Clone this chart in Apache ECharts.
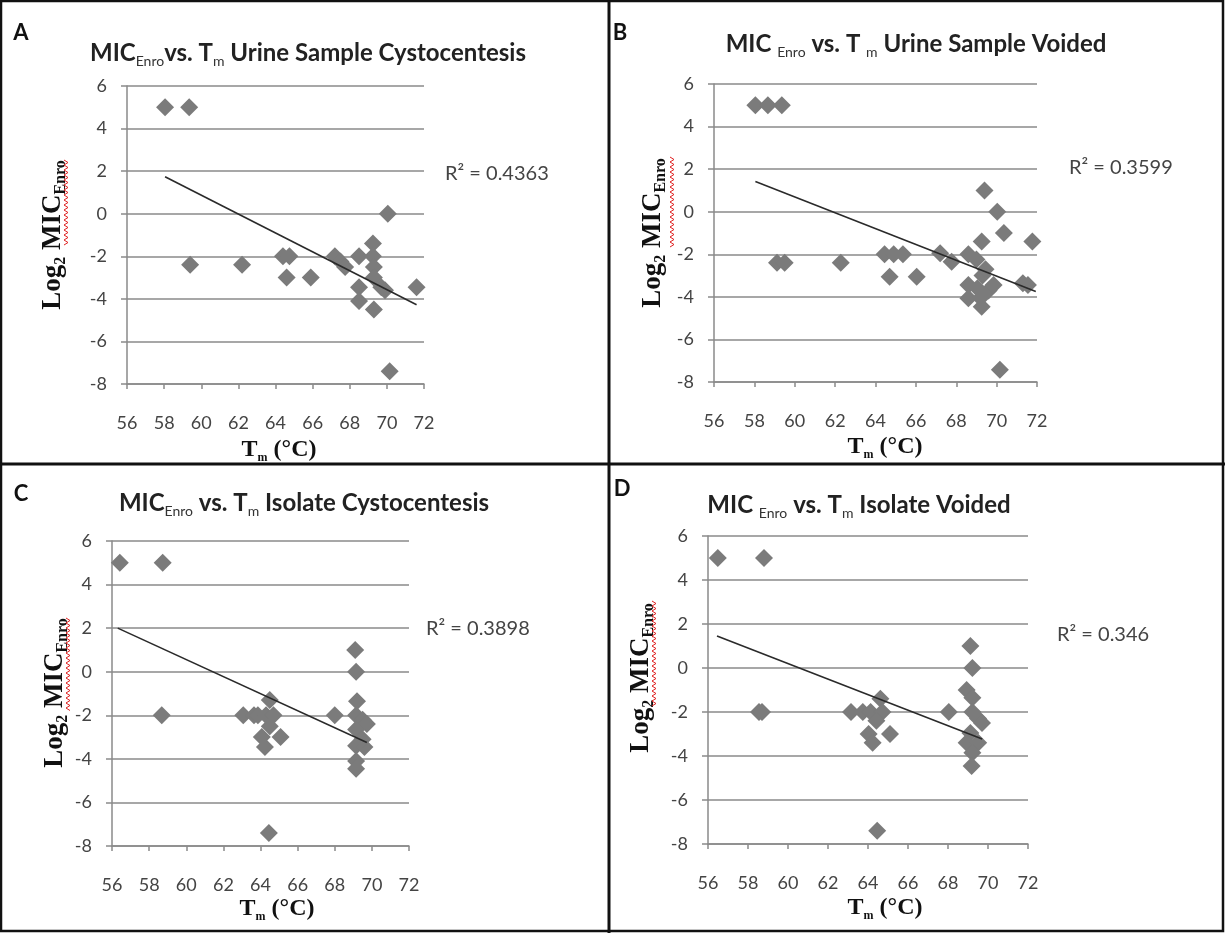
<!DOCTYPE html>
<html><head><meta charset="utf-8">
<script src="https://cdn.jsdelivr.net/npm/echarts@6/dist/echarts.min.js"></script>
<style>html,body{margin:0;padding:0;background:#fff}#c{width:1225px;height:933px}</style>
</head><body><div id="c"></div>
<script>
// axis ranges / tick step
const xRange = [56, 72, 2];
const yRange = [-8, 6, 2];

// Panel A: Urine Sample Cystocentesis
const tmA  = [58.05, 59.35, 59.4, 62.2, 64.4, 64.75, 64.6, 65.9, 67.2, 67.5, 67.75, 68.5, 69.25, 69.25, 69.3, 69.3, 68.5, 68.5, 69.3, 69.7, 69.9, 70.05, 70.15, 71.6];
const micA = [5, 5, -2.4, -2.4, -2, -2, -3, -3, -2, -2.25, -2.5, -2, -1.4, -2, -2.5, -3, -3.45, -4.1, -4.5, -3.45, -3.6, 0, -7.4, -3.45];
const trendA = [[58.05, 1.74], [71.6, -4.28]];

// Panel B: Urine Sample Voided
const tmB  = [58.05, 58.67, 59.36, 59.12, 59.5, 62.28, 64.45, 64.9, 65.36, 64.7, 66.04, 67.2, 67.77, 68.6, 69.0, 69.26, 69.4, 70.03, 70.36, 71.77, 71.3, 71.55, 68.6, 68.6, 69.26, 69.3, 69.6, 69.85, 69.2, 69.45, 69.05, 70.16];
const micB = [5, 5, 5, -2.4, -2.4, -2.4, -2, -2, -2, -3.05, -3.05, -1.95, -2.35, -2, -2.25, -1.4, 1, 0, -1, -1.4, -3.36, -3.44, -3.44, -4.07, -4.46, -3.0, -3.7, -3.44, -4.05, -2.7, -3.6, -7.43];
const trendB = [[58.05, 1.42], [71.94, -3.75]];

// Panel C: Isolate Cystocentesis
const tmC  = [56.42, 58.73, 58.68, 63.07, 63.65, 63.86, 64.3, 64.7, 64.5, 64.5, 64.07, 64.24, 65.08, 64.45, 68.0, 69.1, 69.15, 69.2, 69.15, 69.5, 69.73, 69.15, 69.15, 69.6, 69.15, 69.15, 69.5];
const micC = [5, 5, -2, -2, -2, -2, -2, -2, -1.3, -2.5, -3, -3.45, -3, -7.4, -2, 1, 0, -1.35, -2, -2.2, -2.4, -2.65, -3.4, -3.45, -4.1, -4.45, -3.1];
const trendC = [[56.31, 2.0], [69.73, -3.25]];

// Panel D: Isolate Voided
const tmD  = [56.49, 58.8, 58.55, 58.7, 63.15, 63.74, 64.13, 64.62, 64.72, 64.42, 64.03, 64.23, 65.1, 64.46, 68.04, 69.12, 69.22, 68.93, 69.22, 69.22, 69.5, 69.7, 69.12, 68.93, 69.51, 69.22, 69.18];
const micD = [5, 5, -2, -2, -2, -2, -2, -1.4, -2, -2.4, -3, -3.4, -3, -7.4, -2, 1, 0, -1, -1.35, -2, -2.3, -2.5, -2.95, -3.4, -3.4, -3.85, -4.45];
const trendD = [[56.45, 1.46], [69.71, -3.23]];

const r2Labels = ['R\u00b2 = 0.4363', 'R\u00b2 = 0.3599', 'R\u00b2 = 0.3898', 'R\u00b2 = 0.346'];
const panelLetters = ['A', 'B', 'C', 'D'];
const titles = [
  'MIC{s|Enro}vs. T{s|m} Urine Sample Cystocentesis',
  'MIC {s|Enro} vs. T {s|m} Urine Sample Voided',
  'MIC{s|Enro} vs. T{s|m} Isolate Cystocentesis',
  'MIC {s|Enro} vs. T{s|m} Isolate Voided'
];
const yTitle = 'Log{s|2} MIC{s|Enro}';
const xTitle = 'T{s|m} (\u00b0C)';

const seriesX = [tmA, tmB, tmC, tmD];
const seriesY = [micA, micB, micC, micD];
const trends = [trendA, trendB, trendC, trendD];

// layout
const layout = [
  {grid: {left: 127, top: 86, width: 297, height: 298}, letter: [21, 33], title: [308, 53], r2: [445, 174], ytitle: [53, 235], xtitle: [279, 450], squig: [66, 160, 247]},
  {grid: {left: 714, top: 84, width: 323, height: 298}, letter: [620, 33], title: [916, 44], r2: [1069, 168], ytitle: [653, 233], xtitle: [885, 447], squig: [672, 157, 247]},
  {grid: {left: 112, top: 541, width: 297, height: 305}, letter: [21, 494], title: [304, 503], r2: [426, 629], ytitle: [55, 693], xtitle: [277, 909], squig: [68, 618, 711]},
  {grid: {left: 708, top: 536, width: 320, height: 308}, letter: [622, 489], title: [859, 505], r2: [1057, 635], ytitle: [641, 678], xtitle: [885, 908], squig: [654, 601, 706]}
];

const gridC = '#8a8a8a';
const labelFont = 'Lato';
const grids = [], xAxes = [], yAxes = [], series = [], graphics = [];

function squiggle(x, y0, y1) {
  const pts = [];
  let k = 0;
  for (let y = y0; y <= y1; y += 2.5) { pts.push([x + (k % 2 ? 2 : -2), y]); k++; }
  return pts;
}

layout.forEach((L, i) => {
  grids.push(Object.assign({containLabel: false}, L.grid));
  xAxes.push({
    type: 'value', gridIndex: i, min: xRange[0], max: xRange[1], interval: xRange[2],
    axisLine: {show: true, onZero: false, lineStyle: {color: gridC, width: 1.5}},
    axisTick: {show: true, length: 5, lineStyle: {color: gridC, width: 1.5}},
    splitLine: {show: false},
    axisLabel: {margin: 30, color: '#444', fontFamily: labelFont, fontSize: 18}
  });
  yAxes.push({
    type: 'value', gridIndex: i, min: yRange[0], max: yRange[1], interval: yRange[2],
    axisLine: {show: true, lineStyle: {color: gridC, width: 1.5}},
    axisTick: {show: true, length: 6, lineStyle: {color: gridC, width: 1.5}},
    splitLine: {show: true, lineStyle: {color: gridC, width: 1.5}},
    axisLabel: {margin: 20, color: '#444', fontFamily: labelFont, fontSize: 18}
  });
  series.push({
    type: 'scatter', xAxisIndex: i, yAxisIndex: i,
    data: seriesX[i].map((x, j) => [x, seriesY[i][j]]),
    symbol: 'diamond', symbolSize: 18,
    itemStyle: {color: '#7b7b7b', opacity: 1},
    z: 2
  });
  series.push({
    type: 'line', xAxisIndex: i, yAxisIndex: i,
    data: trends[i], showSymbol: false, symbol: 'none',
    lineStyle: {color: '#2a2a2a', width: 1.6},
    z: 3
  });
  // letter
  graphics.push({type: 'text', x: L.letter[0], y: L.letter[1], style: {text: panelLetters[i], fontFamily: 'Lato', fontWeight: 'bold', fontSize: 22, fill: '#111', align: 'center', verticalAlign: 'middle'}});
  // title
  graphics.push({type: 'text', x: L.title[0], y: L.title[1], style: {
    text: titles[i], fontFamily: 'Lato', fontWeight: 'bold', fontSize: 24, fill: '#222', align: 'center', verticalAlign: 'middle', lineHeight: 30,
    rich: {s: {fontFamily: 'Lato', fontWeight: 'normal', fontSize: 14, fill: '#333', verticalAlign: 'bottom', lineHeight: 14}}
  }});
  // R2
  graphics.push({type: 'text', x: L.r2[0], y: L.r2[1], style: {text: r2Labels[i], fontFamily: 'Lato', fontSize: 20, fill: '#444', align: 'left', verticalAlign: 'middle'}});
  // y title
  graphics.push({type: 'text', x: L.ytitle[0], y: L.ytitle[1], rotation: Math.PI / 2, style: {
    text: yTitle, fontFamily: 'Liberation Serif', fontWeight: 'bold', fontSize: 27, fill: '#111', align: 'center', verticalAlign: 'middle', lineHeight: 32,
    rich: {s: {fontFamily: 'Liberation Serif', fontWeight: 'bold', fontSize: 16, fill: '#111', verticalAlign: 'bottom', lineHeight: 16}}
  }});
  // x title
  graphics.push({type: 'text', x: L.xtitle[0], y: L.xtitle[1], style: {
    text: xTitle, fontFamily: 'Liberation Serif', fontWeight: 'bold', fontSize: 24, fill: '#111', align: 'center', verticalAlign: 'middle', lineHeight: 28,
    rich: {s: {fontFamily: 'Liberation Serif', fontWeight: 'bold', fontSize: 12, fill: '#111', verticalAlign: 'bottom', lineHeight: 12}}
  }});
  // red spell-check squiggle
  graphics.push({type: 'polyline', shape: {points: squiggle(L.squig[0], L.squig[1], L.squig[2])}, style: {stroke: '#e02020', lineWidth: 1, fill: null}});
});

// panel frame
graphics.push({type: 'rect', shape: {x: 1, y: 1, width: 1222, height: 930}, style: {stroke: '#111', lineWidth: 2.5, fill: null}});
graphics.push({type: 'line', shape: {x1: 609, y1: 0, x2: 609, y2: 933}, style: {stroke: '#111', lineWidth: 3}});
graphics.push({type: 'line', shape: {x1: 0, y1: 464, x2: 1225, y2: 464}, style: {stroke: '#111', lineWidth: 3}});

const chart = echarts.init(document.getElementById('c'), null, {renderer: 'canvas'});
chart.setOption({
  animation: false,
  backgroundColor: '#fff',
  grid: grids, xAxis: xAxes, yAxis: yAxes, series: series,
  graphic: graphics
});
</script></body></html>
